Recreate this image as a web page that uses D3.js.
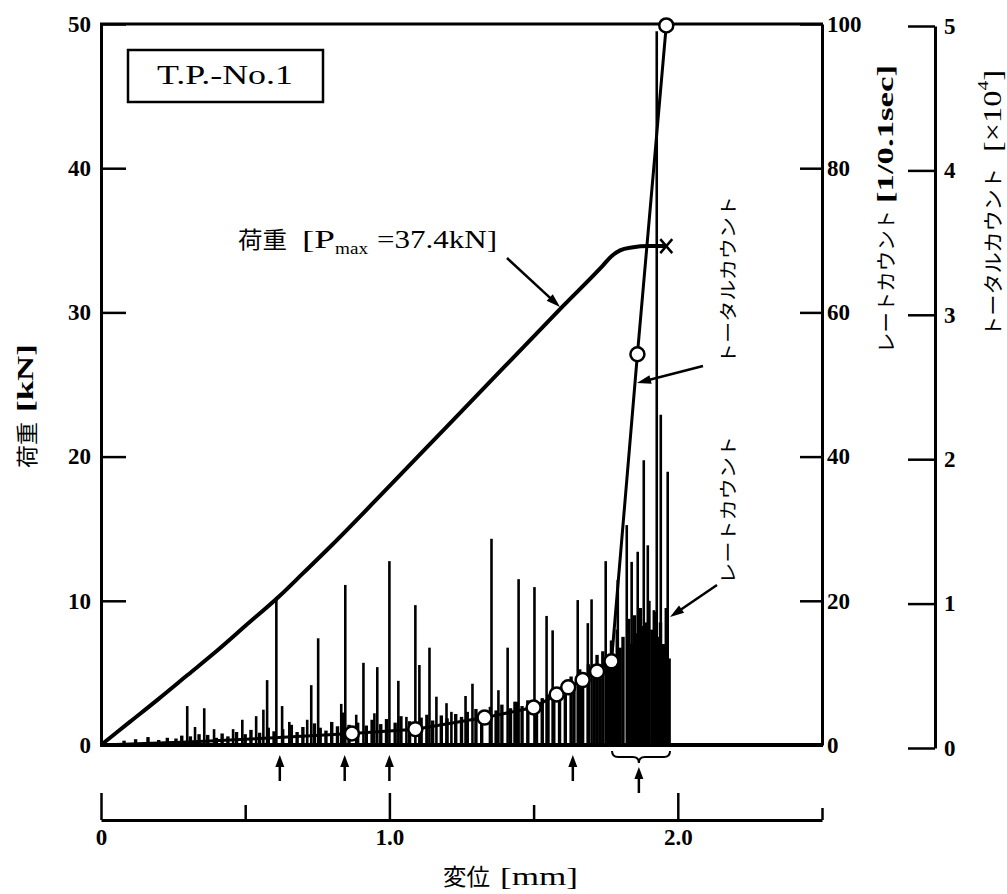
<!DOCTYPE html>
<html><head><meta charset="utf-8">
<script src="https://cdn.jsdelivr.net/npm/d3@7"></script>
<style>body{margin:0;background:#fff}</style>
</head><body>
<svg id="c" width="1007" height="894"></svg>
<script>
// ---------------- DATA ----------------
const loadX = [0, 0.1, 0.2, 0.3, 0.4, 0.5, 0.62, 0.7, 0.8, 1.0, 1.2, 1.4, 1.6, 1.74, 1.77, 1.80, 1.84, 1.90, 1.96];
const loadY = [0, 1.6, 3.2, 4.85, 6.5, 8.25, 10.35, 11.9, 13.85, 17.95, 22.1, 26.25, 30.4, 33.25, 33.9, 34.3, 34.5, 34.6, 34.6];

const totalX = [0, 0.3, 0.6, 0.87, 1.09, 1.33, 1.50, 1.58, 1.62, 1.67, 1.72, 1.77, 1.86, 1.96];
const totalY = [0, 0.02, 0.05, 0.08, 0.11, 0.19, 0.26, 0.35, 0.40, 0.45, 0.51, 0.58, 2.71, 4.99];
const totalMarked = [false, false, false, true, true, true, true, true, true, true, true, true, true, true];

const rateX = [0.299,0.326,0.358,0.392,0.458,0.490,0.538,0.563,0.576,0.608,0.628,0.653,0.715,0.729,0.753,
  0.833,0.847,0.885,0.910,0.948,0.958,1.000,1.031,1.059,1.090,1.104,1.139,1.163,1.198,1.215,1.264,1.288,
  1.354,1.378,1.410,1.434,1.448,1.503,1.545,1.566,1.653,1.688,1.701,1.750,1.792,1.823,1.840,1.861,1.882,
  1.896,1.917,1.927,1.941,1.965];
const rateY = [5.4,2.5,5.1,2.2,2.2,3.5,4.0,4.9,9.0,20.5,5.4,3.2,3.5,8.3,14.8,
  5.7,22.2,4.2,11.4,4.4,10.8,25.5,8.9,3.9,19.4,11.1,13.5,6.7,5.8,4.6,6.8,8.5,
  28.6,7.6,13.5,6.0,23.0,21.9,17.9,15.9,20.1,16.9,20.2,25.5,22.9,30.5,25.4,26.8,39.5,
  27.7,18.7,99.0,45.8,37.9];

// small background spikes (rate count)
const baseX = [0.08,0.12,0.163,0.2,0.23,0.26,0.28,0.31,0.34,0.37,0.40,0.42,0.44,0.47,0.50,0.52,0.55,0.58,0.60,
  0.63,0.66,0.68,0.70,0.74,0.76,0.78,0.80,0.82,0.84,0.86,0.89,0.92,0.94,0.97,0.99,1.02,1.04,1.07,1.11,1.13,1.15,1.18,1.20,
  1.23,1.25,1.27,1.30,1.32,1.35,1.37,1.39,1.42,1.44,1.46,1.48,1.51,1.53,1.55,1.57,1.59,
  1.61,1.63,1.64,1.66,1.67,1.69,1.71,1.72,1.73,1.74,1.76,1.77,1.78,1.79,1.80,1.81,1.83,1.84,1.85,1.86,1.87,1.88,1.89,
  1.90,1.91,1.92,1.93,1.94,1.95,1.96,1.97];
const baseY = [0.6,0.8,1.1,0.7,1.0,0.9,1.3,1.2,1.5,1.4,1.0,1.6,1.2,1.8,1.5,2.1,1.7,2.4,1.9,
  2.2,2.8,1.8,2.5,3.0,2.4,2.0,3.2,2.6,4.5,2.8,3.1,2.7,3.5,2.9,3.6,3.1,4.0,3.3,3.8,4.2,3.4,4.1,3.7,
  4.3,3.9,4.6,5.0,4.2,5.3,4.8,5.6,5.1,6.0,5.4,6.2,5.8,6.5,7.0,6.3,7.4,
  8.0,9.5,7.8,10.5,9.0,11.2,10.0,12.5,9.8,13.0,11.5,14.5,12.0,16.0,13.5,15.0,17.5,14.0,18.0,15.5,19.0,16.5,17.0,
  20.0,16.0,18.5,15.0,17.0,14.0,19.0,12.0];

const loadTicks = [0, 10, 20, 30, 40, 50];
const rateTicks = [0, 20, 40, 60, 80, 100];
const totalTicks = [0, 1, 2, 3, 4, 5];
const dispTicks = [0, 0.5, 1.0, 1.5, 2.0, 2.5];
const dispLabels = ["0", "", "1.0", "", "2.0", ""];
const markX = [0.62, 0.845, 1.0, 1.636];
const braceFrom = 1.772, braceTo = 1.973, braceArrowX = 1.865;

// ---------------- SCALES ----------------
const svg = d3.select("#c");
svg.append("rect").attr("width",1007).attr("height",894).attr("fill","#fff");
const x = d3.scaleLinear([0, 2.5], [101, 822]);
const yL = d3.scaleLinear([0, 50], [745, 24]);
const yR = d3.scaleLinear([0, 100], [745, 24]);
const yT = d3.scaleLinear([0, 5], [745, 24]);
const yTA = d3.scaleLinear([0, 5], [748, 26]);

const NUM = "'Liberation Serif', serif";
const CJK = "'Noto Sans CJK JP', sans-serif";

function styleAxis(g, sw) {
  g.select(".domain").attr("stroke", "#000").attr("stroke-width", sw);
  g.selectAll(".tick line").attr("stroke", "#000").attr("stroke-width", 2.5);
  g.selectAll(".tick text").attr("font-family", NUM).attr("font-weight", "bold")
    .attr("font-size", 23).attr("fill", "#000");
}

// ---------------- RATE COUNT SPIKES ----------------
const spikes = svg.append("g");
spikes.selectAll("line.b").data(baseX.map((d,i)=>[d, baseY[i]])).join("line").attr("class","b")
  .attr("x1", d=>x(d[0])).attr("x2", d=>x(d[0]))
  .attr("y1", yR(0)).attr("y2", d=>yR(d[1]))
  .attr("stroke", "#000").attr("stroke-width", 3.4);
spikes.selectAll("line.r").data(rateX.map((d,i)=>[d, rateY[i]])).join("line").attr("class","r")
  .attr("x1", d=>x(d[0])).attr("x2", d=>x(d[0]))
  .attr("y1", yR(0)).attr("y2", d=>yR(d[1]))
  .attr("stroke", "#000").attr("stroke-width", 2.6);

// ---------------- AXES / FRAME ----------------
const gL = svg.append("g").attr("transform", "translate(101,0)")
  .call(d3.axisLeft(yL).tickValues(loadTicks).tickSizeInner(-25).tickSizeOuter(0).tickPadding(10));
styleAxis(gL, 3);
const gR = svg.append("g").attr("transform", "translate(822,0)")
  .call(d3.axisRight(yR).tickValues(rateTicks).tickSizeInner(-22).tickSizeOuter(0).tickPadding(5));
styleAxis(gR, 3);
const gT = svg.append("g").attr("transform", "translate(935,0)")
  .call(d3.axisRight(yTA).tickValues(totalTicks).tickSizeInner(-27).tickSizeOuter(0).tickPadding(9)
    .tickFormat(d3.format("d")));
styleAxis(gT, 3);
svg.append("line").attr("x1", 100).attr("x2", 823).attr("y1", 24).attr("y2", 24)
  .attr("stroke", "#000").attr("stroke-width", 3);
svg.append("line").attr("x1", 100).attr("x2", 823).attr("y1", 745).attr("y2", 745)
  .attr("stroke", "#000").attr("stroke-width", 4);

const gB = svg.append("g").attr("transform", "translate(0,820)")
  .call(d3.axisBottom(x).tickValues(dispTicks).tickSizeInner(-26).tickSizeOuter(0).tickPadding(9)
    .tickFormat((d,i)=>dispLabels[i]));
styleAxis(gB, 3);
const tickLen = [-27, -15, -27, -15, -27, -12];
gB.selectAll(".tick line").attr("y2", (d,i)=>tickLen[i]);

// ---------------- LOAD CURVE ----------------
const loadPts = loadX.map((d,i)=>[d, loadY[i]]);
svg.append("path").datum(loadPts)
  .attr("d", d3.line().x(d=>x(d[0])).y(d=>yL(d[1])).curve(d3.curveMonotoneX))
  .attr("fill", "none").attr("stroke", "#000").attr("stroke-width", 4);
const last = loadPts[loadPts.length-1];
const cx = x(last[0]), cy = yL(last[1]);
svg.append("path").attr("d", `M${cx-6},${cy-7}L${cx+6},${cy+7}M${cx-6},${cy+7}L${cx+6},${cy-7}`)
  .attr("stroke", "#000").attr("stroke-width", 2.5);

// ---------------- TOTAL COUNT ----------------
const totPts = totalX.map((d,i)=>[d, totalY[i], totalMarked[i]]);
svg.append("path").datum(totPts)
  .attr("d", d3.line().x(d=>x(d[0])).y(d=>yT(d[1])))
  .attr("fill", "none").attr("stroke", "#000").attr("stroke-width", 3);
svg.selectAll("circle.t").data(totPts.filter(d=>d[2])).join("circle").attr("class","t")
  .attr("cx", d=>x(d[0])).attr("cy", d=>yT(d[1])).attr("r", 7)
  .attr("fill", "#fff").attr("stroke", "#000").attr("stroke-width", 2.5);

// ---------------- ANNOTATIONS ----------------
function arrow(x1, y1, x2, y2, hl, hw, sw) {
  const a = Math.atan2(y2-y1, x2-x1), c = Math.cos(a), s = Math.sin(a);
  const bx = x2 - hl*c, by = y2 - hl*s;
  svg.append("line").attr("x1", x1).attr("y1", y1).attr("x2", bx + 2*c).attr("y2", by + 2*s)
    .attr("stroke", "#000").attr("stroke-width", sw);
  svg.append("path").attr("d", `M${x2},${y2}L${bx - hw*s},${by + hw*c}L${bx + hw*s},${by - hw*c}Z`)
    .attr("fill", "#000");
}
markX.forEach(m => arrow(x(m), 781, x(m), 755, 12, 4.5, 2.5));
arrow(x(braceArrowX), 793, x(braceArrowX), 767, 12, 4.5, 2.5);
const b1 = x(braceFrom), b2 = x(braceTo), bm = x(braceArrowX);
svg.append("path")
  .attr("d", `M${b1},751Q${b1},757 ${b1+6},757L${bm-6},757Q${bm},757 ${bm},763Q${bm},757 ${bm+6},757L${b2-6},757Q${b2},757 ${b2},751`)
  .attr("fill", "none").attr("stroke", "#000").attr("stroke-width", 2);

function htext(px, py, str, fam, size, len, weight) {
  const t = svg.append("text").attr("x", px).attr("y", py).attr("font-family", fam)
    .attr("font-size", size).attr("font-weight", weight || "normal").text(str);
  if (len) t.attr("textLength", len).attr("lengthAdjust", "spacingAndGlyphs");
  return t;
}

// box label
svg.append("rect").attr("x", 128).attr("y", 50).attr("width", 195).attr("height", 52)
  .attr("fill", "#fff").attr("stroke", "#000").attr("stroke-width", 2.5);
htext(157, 84, "T.P.-No.1", NUM, 27, 136);

// load label
htext(238, 248, "荷重", CJK, 23, 49);
htext(302, 248, "[P", NUM, 26, 33);
htext(335, 254, "max", NUM, 17, 33);
htext(377, 248, "=37.4kN]", NUM, 26, 120);
arrow(507, 258, 560, 307, 14, 4.5, 2.5);

// vertical labels
function vtext(px, py, str, fam, size, len, weight) {
  const t = svg.append("text").attr("transform", `translate(${px},${py}) rotate(-90)`)
    .attr("dominant-baseline", "central").attr("font-family", fam).attr("font-size", size)
    .attr("font-weight", weight || "normal").text(str);
  if (len) t.attr("textLength", len).attr("lengthAdjust", "spacingAndGlyphs");
  return t;
}
vtext(727, 364, "トータルカウント", CJK, 18, 168);
arrow(703, 366, 637, 383, 14, 4.5, 2.5);
vtext(727, 584, "レートカウント", CJK, 18, 148);
arrow(717, 585, 670, 617, 14, 4.5, 2.5);

// axis titles
vtext(25, 468, "荷重", CJK, 22, 46);
vtext(25, 412, "[kN]", NUM, 24, 68, "bold");
vtext(885, 353, "レートカウント", CJK, 20, 143);
vtext(885, 203, "[1/0.1sec]", NUM, 24, 138, "bold");
vtext(992, 337, "トータルカウント", CJK, 20, 169);
const tt = svg.append("text").attr("transform", "translate(992,152) rotate(-90)")
  .attr("dominant-baseline", "central").attr("font-family", NUM).attr("font-size", 25)
  .attr("textLength", 82).attr("lengthAdjust", "spacingAndGlyphs");
tt.append("tspan").text("[×10");
tt.append("tspan").attr("font-size", 15).attr("dy", -9).text("4");
tt.append("tspan").attr("dy", 9).text("]");

htext(443, 885, "変位", CJK, 23, 47);
htext(500, 885, "[mm]", NUM, 25, 78);
</script>
</body></html>
